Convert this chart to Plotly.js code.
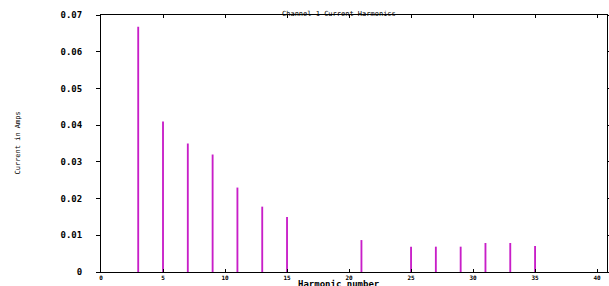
<!DOCTYPE html>
<html><head><meta charset="utf-8">
<script src="https://cdn.plot.ly/plotly-3.0.1.min.js"></script>
<style>html,body{margin:0;padding:0;background:#fff}</style>
</head><body>
<div id="chart" style="width:609px;height:286px"></div>
<script>
const harmonics = [3, 5, 7, 9, 11, 13, 15, 21, 25, 27, 29, 31, 33, 35];
const currentAmps = [0.0668, 0.041, 0.035, 0.032, 0.023, 0.0178, 0.015, 0.0087, 0.0069, 0.0069, 0.0069, 0.0079, 0.0079, 0.0071];
const xTicks = [0, 5, 10, 15, 20, 25, 30, 35, 40];
const yTicks = [0, 0.01, 0.02, 0.03, 0.04, 0.05, 0.06, 0.07];
const yTickText = ['0', '0.01', '0.02', '0.03', '0.04', '0.05', '0.06', '0.07'];

const data = [{
  type: 'bar', x: harmonics, y: currentAmps, width: 0.15,
  marker: {color: '#c81ec8', line: {width: 0}}, hoverinfo: 'x+y'
}];
const layout = {
  width: 609, height: 286,
  margin: {l: 101, r: 2, t: 15, b: 14},
  paper_bgcolor: '#fff', plot_bgcolor: '#fff',
  showlegend: false,
  xaxis: {range: [0, 40.8], tickvals: xTicks, ticktext: xTicks.map(String),
    showgrid: false, zeroline: false, showline: true, linecolor: '#000', linewidth: 1,
    mirror: 'ticks', ticks: 'inside', ticklen: 3, tickcolor: '#000',
    tickfont: {family: 'DejaVu Sans Mono', size: 6, color: '#000', weight: 'bold'}},
  yaxis: {range: [0, 0.07], tickvals: yTicks, ticktext: yTickText,
    showgrid: false, zeroline: false, showline: true, linecolor: '#000', linewidth: 1,
    mirror: 'ticks', ticks: 'outside', ticklen: 4, tickcolor: '#000', ticklabelstandoff: 12,
    tickfont: {family: 'DejaVu Sans Mono', size: 9, color: '#000', weight: 'bold'}},
  annotations: [
    {text: 'Channel 1 Current Harmonics', xref: 'paper', yref: 'paper', x: 0.47, y: 1, yshift: 7,
     showarrow: false, font: {family: 'DejaVu Sans Mono', size: 7, color: '#000'}},
    {text: 'Harmonic number', xref: 'paper', yref: 'paper', x: 0.47, y: 0, yshift: -12, yanchor: 'middle',
     showarrow: false, font: {family: 'DejaVu Sans Mono', size: 9, color: '#000', weight: 'bold'}},
    {text: 'Current in Amps', xref: 'paper', yref: 'paper', x: 0, xshift: -90, y: 0.5,
     textangle: -90, showarrow: false, font: {family: 'DejaVu Sans Mono', size: 7, color: '#000'}}
  ]
};
Plotly.newPlot('chart', data, layout, {displayModeBar: false, staticPlot: true});
</script>
</body></html>
